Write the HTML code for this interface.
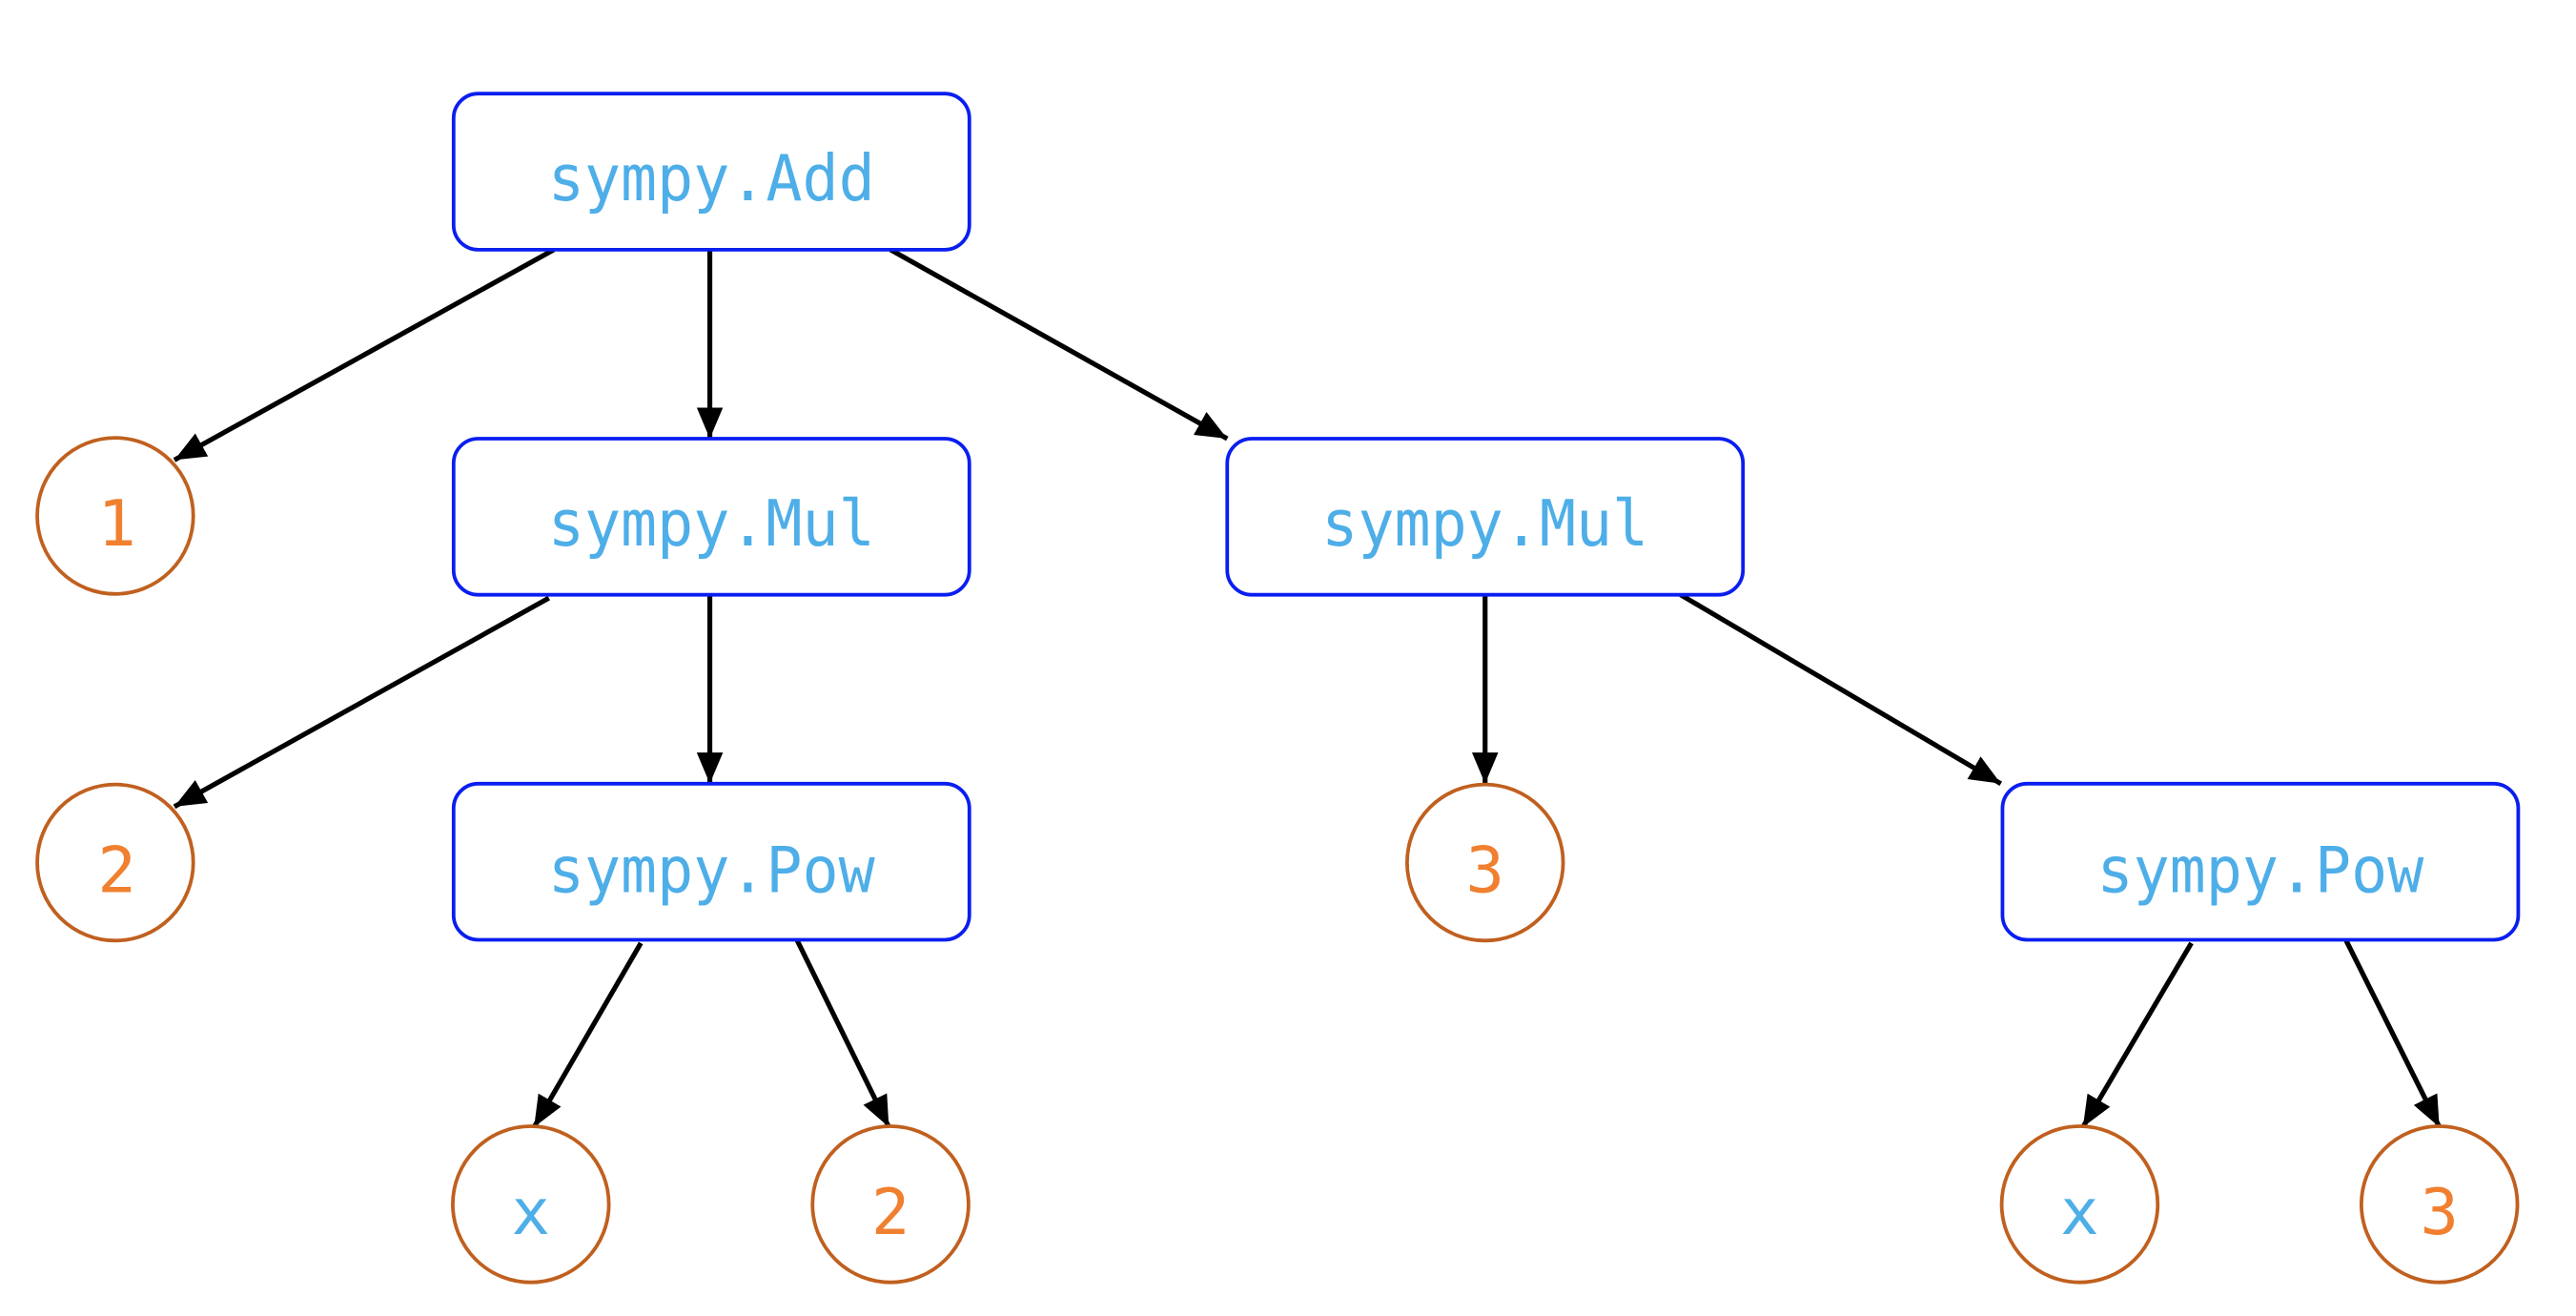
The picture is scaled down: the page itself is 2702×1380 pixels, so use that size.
<!DOCTYPE html>
<html><head><style>html,body{margin:0;padding:0;background:#fff}svg{display:block}</style></head>
<body>
<svg width="2702" height="1380" viewBox="0 0 1568 801" xmlns="http://www.w3.org/2000/svg">
<defs>
<marker id="a" markerUnits="userSpaceOnUse" markerWidth="20" markerHeight="18" refX="19" refY="8" orient="auto">
<path d="M0,0 L19,8 L0,16 Z" fill="#000"/>
</marker>
</defs>
<g stroke="#000" stroke-width="3" marker-end="url(#a)">
<line x1="337" y1="152" x2="106" y2="280"/>
<line x1="432" y1="152" x2="432" y2="267"/>
<line x1="542" y1="152" x2="747" y2="267"/>
<line x1="334" y1="364" x2="106" y2="491"/>
<line x1="432" y1="361" x2="432" y2="477"/>
<line x1="904" y1="361" x2="904" y2="477"/>
<line x1="1023" y1="362" x2="1218" y2="477"/>
<line x1="390" y1="574" x2="325" y2="686"/>
<line x1="485" y1="572" x2="541" y2="686"/>
<line x1="1334" y1="574" x2="1268" y2="686"/>
<line x1="1428" y1="572" x2="1485" y2="686"/>
</g>
<g fill="#fff" stroke="#0a1ef0" stroke-width="2.2">
<rect x="276" y="57" width="314" height="95" rx="15"/>
<rect x="276" y="267" width="314" height="95" rx="15"/>
<rect x="747" y="267" width="314" height="95" rx="15"/>
<rect x="276" y="477" width="314" height="95" rx="15"/>
<rect x="1219" y="477" width="314" height="95" rx="15"/>
</g>
<g fill="#fff" stroke="#c0601f" stroke-width="2.2">
<circle cx="70" cy="314" r="47.5"/>
<circle cx="70" cy="525" r="47.5"/>
<circle cx="904" cy="525" r="47.5"/>
<circle cx="323" cy="733" r="47.5"/>
<circle cx="542" cy="733" r="47.5"/>
<circle cx="1266" cy="733" r="47.5"/>
<circle cx="1485" cy="733" r="47.5"/>
</g>
<g font-family="DejaVu Sans Mono, monospace" font-size="39" text-anchor="middle" fill="#4eaee8">
<text x="433" y="122" textLength="199" lengthAdjust="spacingAndGlyphs">sympy.Add</text>
<text x="433" y="332" textLength="199" lengthAdjust="spacingAndGlyphs">sympy.Mul</text>
<text x="904" y="332" textLength="199" lengthAdjust="spacingAndGlyphs">sympy.Mul</text>
<text x="433" y="543" textLength="199" lengthAdjust="spacingAndGlyphs">sympy.Pow</text>
<text x="1376" y="543" textLength="199" lengthAdjust="spacingAndGlyphs">sympy.Pow</text>
<text x="323" y="751">x</text>
<text x="1266" y="751">x</text>
</g>
<g font-family="DejaVu Sans Mono, monospace" font-size="39" text-anchor="middle" fill="#f08030">
<text x="71" y="332">1</text>
<text x="71" y="543">2</text>
<text x="904" y="543">3</text>
<text x="542" y="751">2</text>
<text x="1485" y="751">3</text>
</g>
</svg>
</body></html>
